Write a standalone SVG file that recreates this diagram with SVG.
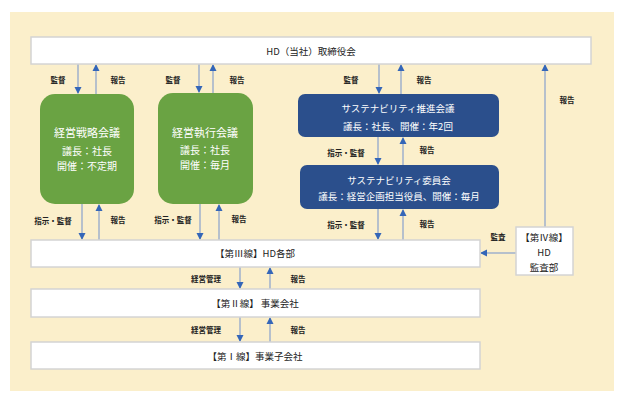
<svg xmlns="http://www.w3.org/2000/svg" width="624" height="410" viewBox="0 0 624 410">
<defs>
<marker id="ah" markerWidth="8" markerHeight="8" refX="6" refY="4" orient="auto" markerUnits="userSpaceOnUse">
<path d="M0,0.5 L7,4 L0,7.5 Z" fill="#3466b8"/>
</marker>
<style>
text{font-family:"Noto Sans CJK JP","Noto Sans",sans-serif;}
.box{fill:#ffffff;stroke:#d4d4d4;stroke-width:1.5;}
.green{fill:#6aa343;}
.blue{fill:#2b4f8c;}
.wt{fill:#ffffff;font-size:11px;text-anchor:middle;}
.ws{fill:#ffffff;font-size:10px;text-anchor:middle;}
.bw{fill:#ffffff;font-size:9.5px;text-anchor:middle;}
.bt{fill:#222222;font-size:9.5px;text-anchor:middle;}
.lb{fill:#222222;font-size:7.5px;text-anchor:middle;font-weight:bold;}
.ln{stroke:#9fb1cc;stroke-width:1.5;fill:none;marker-end:url(#ah);}
</style>
</defs>
<rect x="10" y="12" width="604" height="379" fill="#fbefcb"/>
<g id="connectors">
<line class="ln" x1="78" y1="64" x2="78" y2="93"/>
<line class="ln" x1="96" y1="94" x2="96" y2="65"/>
<line class="ln" x1="199" y1="64" x2="199" y2="92"/>
<line class="ln" x1="213" y1="93" x2="213" y2="65"/>
<line class="ln" x1="379" y1="64" x2="379" y2="93"/>
<line class="ln" x1="401" y1="94" x2="401" y2="65"/>
<line class="ln" x1="545" y1="227" x2="545" y2="65"/>
<line class="ln" x1="378" y1="137" x2="378" y2="164"/>
<line class="ln" x1="403" y1="165" x2="403" y2="138"/>
<line class="ln" x1="378" y1="209" x2="378" y2="239"/>
<line class="ln" x1="403" y1="240" x2="403" y2="210"/>
<line class="ln" x1="82" y1="204" x2="82" y2="239"/>
<line class="ln" x1="99" y1="240" x2="99" y2="205"/>
<line class="ln" x1="200" y1="204" x2="200" y2="239"/>
<line class="ln" x1="219" y1="240" x2="219" y2="205"/>
<line class="ln" x1="516" y1="253" x2="481" y2="253"/>
<line class="ln" x1="240" y1="267" x2="240" y2="288"/>
<line class="ln" x1="270" y1="289" x2="270" y2="268"/>
<line class="ln" x1="240" y1="317" x2="240" y2="341"/>
<line class="ln" x1="270" y1="342" x2="270" y2="318"/>
<text class="lb" x="58" y="83">監督</text>
<text class="lb" x="118" y="83">報告</text>
<text class="lb" x="173" y="83">監督</text>
<text class="lb" x="237" y="83">報告</text>
<text class="lb" x="351" y="83">監督</text>
<text class="lb" x="424" y="83">報告</text>
<text class="lb" x="567" y="103">報告</text>
<text class="lb" x="346" y="156">指示・監督</text>
<text class="lb" x="427" y="153">報告</text>
<text class="lb" x="346" y="228">指示・監督</text>
<text class="lb" x="427" y="227">報告</text>
<text class="lb" x="53" y="224">指示・監督</text>
<text class="lb" x="118" y="223">報告</text>
<text class="lb" x="173" y="223">指示・監督</text>
<text class="lb" x="239" y="222">報告</text>
<text class="lb" x="498" y="240">監査</text>
<text class="lb" x="206" y="282">経営管理</text>
<text class="lb" x="298" y="282">報告</text>
<text class="lb" x="206" y="333">経営管理</text>
<text class="lb" x="298" y="333">報告</text>
</g>
<g id="hd-board">
<rect class="box" x="31" y="37" width="560" height="27"/>
<text class="bt" x="311" y="55">HD（当社）取締役会</text>
</g>
<g id="senryaku">
<rect class="green" x="40" y="94" width="94" height="110" rx="15"/>
<text class="wt" x="87" y="137">経営戦略会議</text>
<text class="ws" x="87" y="155">議長：社長</text>
<text class="ws" x="87" y="170">開催：不定期</text>
</g>
<g id="shikko">
<rect class="green" x="158" y="93" width="95" height="111" rx="15"/>
<text class="wt" x="205" y="137">経営執行会議</text>
<text class="ws" x="205" y="154">議長：社長</text>
<text class="ws" x="205" y="169">開催：毎月</text>
</g>
<g id="suishin">
<rect class="blue" x="298" y="94" width="201" height="43" rx="7"/>
<text class="bw" x="398" y="112">サステナビリティ推進会議</text>
<text class="bw" x="398" y="130">議長：社長、開催：年2回</text>
</g>
<g id="iinkai">
<rect class="blue" x="300" y="165" width="199" height="44" rx="7"/>
<text class="bw" x="399" y="184">サステナビリティ委員会</text>
<text class="bw" x="399" y="200">議長：経営企画担当役員、開催：毎月</text>
</g>
<g id="line3">
<rect class="box" x="31" y="240" width="449" height="27"/>
<text class="bt" x="255" y="257">【第Ⅲ線】HD各部</text>
</g>
<g id="line2">
<rect class="box" x="31" y="289" width="449" height="28"/>
<text class="bt" x="255" y="307">【第Ⅱ線】 事業会社</text>
</g>
<g id="line1">
<rect class="box" x="31" y="342" width="449" height="27"/>
<text class="bt" x="255" y="360">【第Ⅰ線】事業子会社</text>
</g>
<g id="line4">
<rect class="box" x="516" y="227" width="57" height="48"/>
<text class="bt" x="544" y="241">【第Ⅳ線】</text>
<text class="bt" x="544" y="256">HD</text>
<text class="bt" x="544" y="271">監査部</text>
</g>
</svg>
